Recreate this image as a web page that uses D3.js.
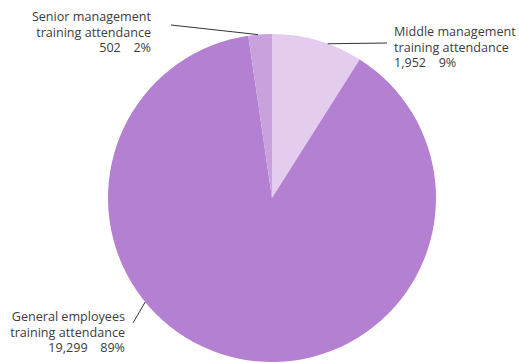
<!DOCTYPE html>
<html>
<head>
<meta charset="utf-8">
<script src="https://cdn.jsdelivr.net/npm/d3@7"></script>
<style>
  html, body { margin: 0; padding: 0; background: #fff; }
  svg text { font-family: "Open Sans", "Noto Sans", sans-serif; font-size: 12.6px; fill: #3d3d3d; }
</style>
</head>
<body>
<svg id="chart" width="519" height="363"></svg>
<script>
// Training attendance by employee group, clockwise from 12 o'clock
const groups = ["Middle management", "General employees", "Senior management"];
const attendance = [1952, 19299, 502];
const percents = ["9%", "89%", "2%"];
const colors = ["#e4ccef", "#b480d1", "#c9a1dd"];

const width = 519, height = 363;
const cx = 272, cy = 198, radius = 164;

const svg = d3.select("#chart");
const g = svg.append("g").attr("transform", `translate(${cx},${cy})`);

const pie = d3.pie().sort(null).value(d => d)(attendance);
const arc = d3.arc().innerRadius(0).outerRadius(radius);

g.selectAll("path.slice")
  .data(pie)
  .join("path")
  .attr("class", "slice")
  .attr("d", arc)
  .attr("fill", (d, i) => colors[i]);

// Leader lines start on the rim at a fraction of each slice's sweep,
// then run out to the text block.
const labelSpecs = [
  { frac: 0.615, end: [387, 43], anchor: "start", tx: 394, ty: 36 },
  { frac: 0.621, end: [133, 323], anchor: "end", tx: 125, ty: 321 },
  { frac: 0.41, end: [171, 25], anchor: "end", tx: 151, ty: 21 }
];

const fmt = d3.format(",");

pie.forEach((d, i) => {
  const spec = labelSpecs[i];
  const a = d.startAngle + (d.endAngle - d.startAngle) * spec.frac;
  const px = cx + Math.sin(a) * radius;
  const py = cy - Math.cos(a) * radius;
  svg.append("line")
    .attr("x1", px).attr("y1", py)
    .attr("x2", spec.end[0]).attr("y2", spec.end[1])
    .attr("stroke", "#333").attr("stroke-width", 1);

  const t = svg.append("text")
    .attr("text-anchor", spec.anchor)
    .attr("x", spec.tx).attr("y", spec.ty);
  const lines = [groups[i], "training attendance", fmt(d.data) + "\u2003" + percents[i]];
  lines.forEach((s, k) => {
    t.append("tspan").attr("x", spec.tx).attr("dy", k === 0 ? 0 : 15.6).text(s);
  });
});
</script>
</body>
</html>
